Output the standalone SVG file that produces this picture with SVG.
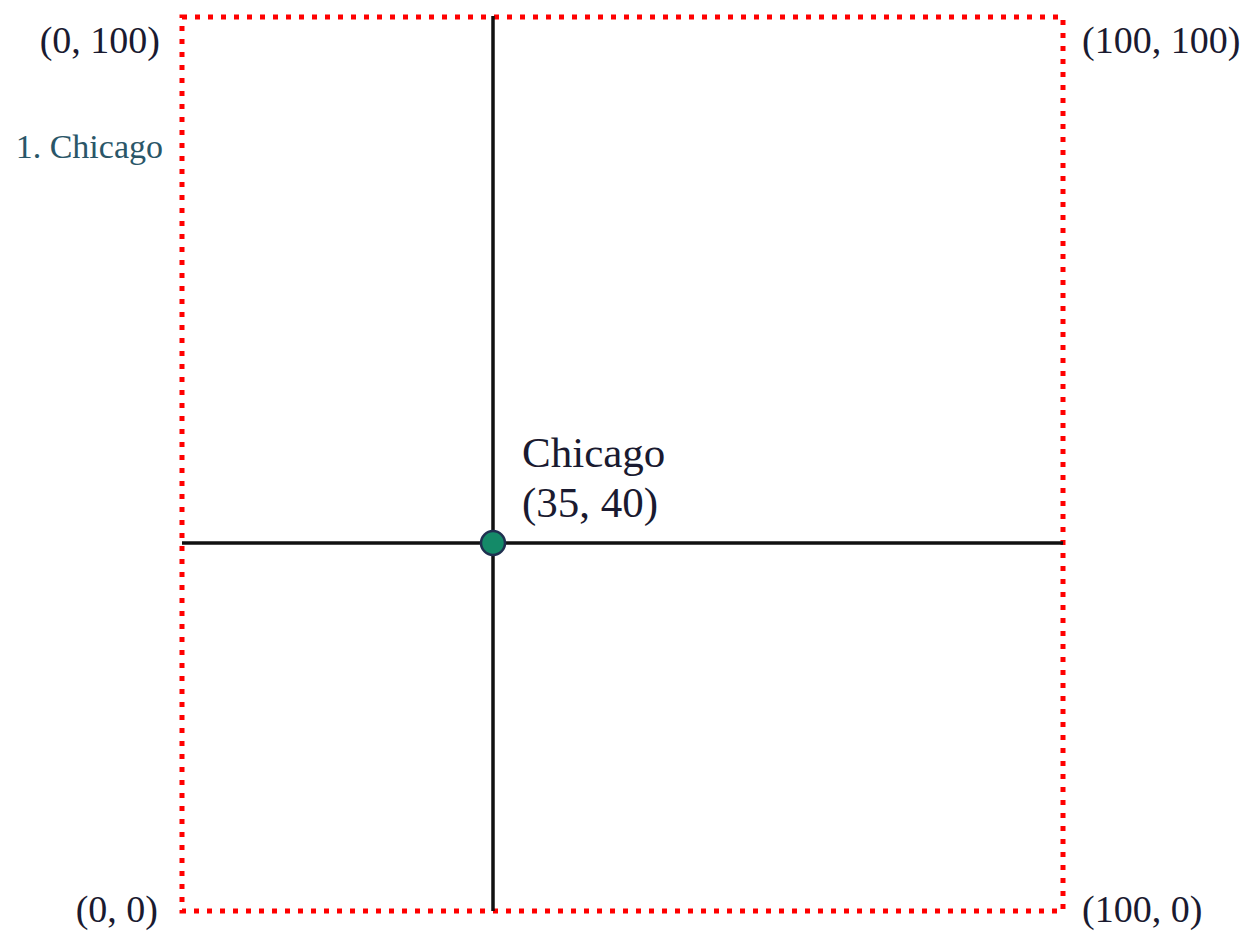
<svg xmlns="http://www.w3.org/2000/svg" width="1250" height="932" viewBox="0 0 1250 932">
<style>
.lbl{font-family:"Liberation Serif","Times New Roman",serif;fill:#1a1a30}
.coord{font-size:38px}
.big{font-size:43px}
.axis{stroke:#111;stroke-width:3.5;fill:none}
</style>
<rect width="1250" height="932" fill="#fff"/>
<g id="boundary">
<rect x="182" y="17" width="881" height="894" fill="none" stroke="#f00" stroke-width="5" stroke-dasharray="5 8"/>
</g>
<g id="connectors">
<line class="axis" x1="493" y1="16" x2="493" y2="911"/>
<line class="axis" x1="182" y1="543" x2="1063" y2="543"/>
</g>
<g id="chicago">
<circle cx="493" cy="543" r="12" fill="#148a68" stroke="#1f3050" stroke-width="2.5"/>
<text class="lbl big" x="522" y="467">Chicago</text>
<text class="lbl big" x="522" y="517">(35, 40)</text>
</g>
<g id="labels">
<text class="lbl coord" x="160" y="53" text-anchor="end">(0, 100)</text>
<text class="lbl coord" x="1082" y="53">(100, 100)</text>
<text class="lbl coord" x="158" y="922" text-anchor="end">(0, 0)</text>
<text class="lbl coord" x="1082" y="922">(100, 0)</text>
<text class="lbl" x="163" y="158" text-anchor="end" font-size="34" style="fill:#2a5668">1. Chicago</text>
</g>
</svg>
